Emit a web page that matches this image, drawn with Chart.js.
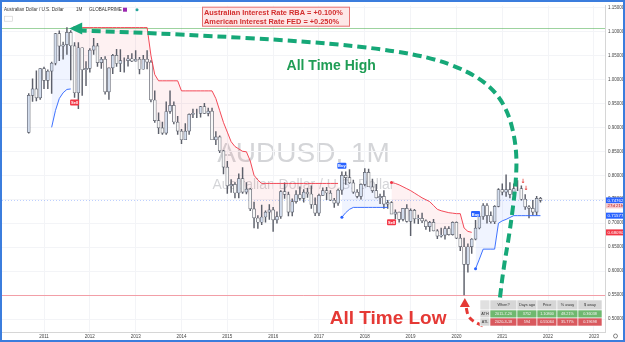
<!DOCTYPE html>
<html>
<head>
<meta charset="utf-8">
<script src="https://cdn.jsdelivr.net/npm/chart.js@4/dist/chart.umd.min.js"></script>
<style>
  html, body { margin: 0; padding: 0; background: #fff; }
  #wrap { position: relative; width: 625px; height: 342px; }
</style>
</head>
<body>
<div id="wrap"><canvas id="myChart" width="625" height="342"></canvas></div>
<script>
// AUDUSD monthly candles, Sep 2010 .. Nov 2021 (index 0 = Sep 2010)
var candleOpen = [
  0.8895, 0.9667, 0.9800, 0.9615,
  1.0224, 0.9980, 1.0170, 1.0336, 1.0955, 1.0692, 1.0722, 1.0980, 1.0700, 0.9720, 1.0660, 1.0200,
  1.0230, 1.0610, 1.0700, 1.0350, 1.0420, 0.9740, 1.0240, 1.0500, 1.0330, 1.0390, 1.0390, 1.0430,
  1.0380, 1.0420, 1.0210, 1.0420, 1.0360, 0.9570, 0.9140, 0.8990, 0.8880, 0.9330, 0.9460, 0.9110,
  0.8920, 0.8740, 0.8920, 0.9270, 0.9290, 0.9290, 0.9430, 0.9290, 0.9340, 0.8740, 0.8800, 0.8510,
  0.8170, 0.7780, 0.7810, 0.7630, 0.7930, 0.7650, 0.7710, 0.7300, 0.7110, 0.7020, 0.7130, 0.7230,
  0.7280, 0.7070, 0.7140, 0.7660, 0.7600, 0.7230, 0.7450, 0.7600, 0.7520, 0.7650, 0.7610, 0.7390,
  0.7210, 0.7580, 0.7680, 0.7630, 0.7480, 0.7420, 0.7690, 0.8000, 0.7950, 0.7840, 0.7650, 0.7560,
  0.7810, 0.8060, 0.7760, 0.7680, 0.7530, 0.7560, 0.7400, 0.7430, 0.7190, 0.7230, 0.7080, 0.7310,
  0.7040, 0.7270, 0.7090, 0.7100, 0.7050, 0.6930, 0.7020, 0.6840, 0.6730, 0.6750, 0.6890, 0.6760,
  0.7020, 0.6690, 0.6510, 0.6140, 0.6510, 0.6670, 0.6900, 0.7140, 0.7370, 0.7160, 0.7030, 0.7350,
  0.7700, 0.7650, 0.7700, 0.7600, 0.7720, 0.7720, 0.7500, 0.7340, 0.7310, 0.7230, 0.7520
];
var candleHigh = [
  0.9705, 1.0013, 1.0180, 1.0225,
  1.0255, 1.0200, 1.0360, 1.0960, 1.1012, 1.0780, 1.1080, 1.1015, 1.0765, 1.0765, 1.0660, 1.0370,
  1.0640, 1.0855, 1.0750, 1.0460, 1.0475, 1.0240, 1.0520, 1.0625, 1.0620, 1.0450, 1.0500, 1.0540,
  1.0600, 1.0460, 1.0500, 1.0600, 1.0390, 0.9760, 0.9300, 0.9110, 0.9530, 0.9760, 0.9530, 0.9230,
  0.8960, 0.9080, 0.9280, 0.9380, 0.9380, 0.9440, 0.9500, 0.9400, 0.9400, 0.8910, 0.8820, 0.8520,
  0.8290, 0.7910, 0.7850, 0.8030, 0.8160, 0.7850, 0.7730, 0.7440, 0.7160, 0.7380, 0.7260, 0.7390,
  0.7330, 0.7240, 0.7680, 0.7840, 0.7650, 0.7510, 0.7680, 0.7760, 0.7700, 0.7730, 0.7780, 0.7530,
  0.7610, 0.7740, 0.7750, 0.7680, 0.7520, 0.7710, 0.8070, 0.8070, 0.8120, 0.7900, 0.7700, 0.7820,
  0.8140, 0.8130, 0.7920, 0.7810, 0.7610, 0.7680, 0.7480, 0.7450, 0.7280, 0.7230, 0.7310, 0.7390,
  0.7300, 0.7290, 0.7170, 0.7210, 0.7070, 0.7040, 0.7080, 0.6870, 0.6900, 0.6930, 0.6930, 0.7030,
  0.7030, 0.6770, 0.6690, 0.6570, 0.6680, 0.7060, 0.7200, 0.7410, 0.7410, 0.7240, 0.7370, 0.7720,
  0.7820, 0.8010, 0.7850, 0.7820, 0.7890, 0.7780, 0.7600, 0.7370, 0.7480, 0.7560, 0.7540
];
var candleLow = [
  0.8880, 0.9540, 0.9550, 0.9580,
  0.9805, 0.9805, 0.9705, 1.0300, 1.0390, 1.0420, 1.0520, 0.9990, 0.9625, 0.9390, 0.9665, 0.9870,
  1.0150, 1.0520, 1.0270, 1.0230, 0.9690, 0.9580, 1.0120, 1.0270, 1.0160, 1.0150, 1.0275, 1.0370,
  1.0380, 1.0115, 1.0210, 1.0220, 0.9530, 0.9100, 0.8870, 0.8850, 0.8850, 0.9290, 0.9070, 0.8850,
  0.8660, 0.8740, 0.8850, 0.9200, 0.9200, 0.9210, 0.9290, 0.9240, 0.8740, 0.8640, 0.8470, 0.8030,
  0.7620, 0.7640, 0.7530, 0.7530, 0.7620, 0.7610, 0.7260, 0.6900, 0.6890, 0.6970, 0.7020, 0.7080,
  0.6830, 0.7000, 0.7100, 0.7520, 0.7150, 0.7150, 0.7420, 0.7480, 0.7440, 0.7540, 0.7310, 0.7160,
  0.7160, 0.7580, 0.7490, 0.7470, 0.7330, 0.7370, 0.7600, 0.7810, 0.7830, 0.7620, 0.7530, 0.7500,
  0.7780, 0.7760, 0.7640, 0.7530, 0.7410, 0.7310, 0.7310, 0.7200, 0.7090, 0.7020, 0.7050, 0.7020,
  0.6740, 0.7000, 0.6990, 0.7010, 0.6870, 0.6830, 0.6840, 0.6680, 0.6710, 0.6670, 0.6750, 0.6750,
  0.6680, 0.6430, 0.5506, 0.5980, 0.6370, 0.6650, 0.6880, 0.7080, 0.7000, 0.7000, 0.6990, 0.7340,
  0.7590, 0.7560, 0.7530, 0.7530, 0.7680, 0.7480, 0.7290, 0.7110, 0.7170, 0.7170, 0.7440
];
var candleClose = [
  0.9667, 0.9800, 0.9615, 1.0224,
  0.9980, 1.0170, 1.0336, 1.0955, 1.0692, 1.0722, 1.0980, 1.0700, 0.9720, 1.0660, 1.0200, 1.0230,
  1.0610, 1.0700, 1.0350, 1.0420, 0.9740, 1.0240, 1.0500, 1.0330, 1.0390, 1.0390, 1.0430, 1.0380,
  1.0420, 1.0210, 1.0420, 1.0360, 0.9570, 0.9140, 0.8990, 0.8880, 0.9330, 0.9460, 0.9110, 0.8920,
  0.8740, 0.8920, 0.9270, 0.9290, 0.9290, 0.9430, 0.9290, 0.9340, 0.8740, 0.8800, 0.8510, 0.8170,
  0.7780, 0.7810, 0.7630, 0.7930, 0.7650, 0.7710, 0.7300, 0.7110, 0.7020, 0.7130, 0.7230, 0.7280,
  0.7070, 0.7140, 0.7660, 0.7600, 0.7230, 0.7450, 0.7600, 0.7520, 0.7650, 0.7610, 0.7390, 0.7210,
  0.7580, 0.7680, 0.7630, 0.7480, 0.7420, 0.7690, 0.8000, 0.7950, 0.7840, 0.7650, 0.7560, 0.7810,
  0.8060, 0.7760, 0.7680, 0.7530, 0.7560, 0.7400, 0.7430, 0.7190, 0.7230, 0.7080, 0.7310, 0.7040,
  0.7270, 0.7090, 0.7100, 0.7050, 0.6930, 0.7020, 0.6840, 0.6730, 0.6750, 0.6890, 0.6760, 0.7020,
  0.6690, 0.6510, 0.6140, 0.6510, 0.6670, 0.6900, 0.7140, 0.7370, 0.7160, 0.7030, 0.7350, 0.7700,
  0.7650, 0.7700, 0.7600, 0.7720, 0.7720, 0.7500, 0.7340, 0.7310, 0.7230, 0.7520, 0.7476
];

// trailing stop lines (supertrend style), start index + values
var supportStart1 = 6;
var support1 = [0.900, 0.935, 0.960, 0.972, 0.979, 0.980];
var supportStart2 = 82;
var support2 = [0.7124, 0.722, 0.729, 0.733, 0.733, 0.733, 0.733, 0.733, 0.733, 0.733, 0.733, 0.733, 0.733];
var supportStart3 = 117;
var support3 = [0.605, 0.625, 0.646, 0.646, 0.646, 0.646, 0.700, 0.705, 0.708, 0.712,
  0.7158, 0.7158, 0.7158, 0.7158, 0.7158, 0.7158, 0.7158, 0.7158];
var resistStart1 = 12;
var resist1 = [1.108, 1.108, 1.108, 1.108, 1.108, 1.108, 1.108, 1.108, 1.108, 1.108,
  1.108, 1.108, 1.108, 1.108, 1.108, 1.108, 1.108, 1.108, 1.108, 1.108,
  1.050, 1.010, 0.997, 0.997, 0.997, 0.997, 0.997, 0.997,
  0.976, 0.976, 0.976, 0.976, 0.976, 0.976, 0.976, 0.976, 0.976,
  0.960, 0.935, 0.910, 0.890, 0.870, 0.860, 0.855, 0.850, 0.849, 0.830, 0.800, 0.790,
  0.783, 0.783, 0.783, 0.783, 0.783, 0.783, 0.783, 0.783, 0.783, 0.783, 0.783,
  0.783, 0.783, 0.783, 0.783, 0.783, 0.783, 0.783, 0.783, 0.783, 0.783];
var resistStart2 = 95;
var resist2 = [0.785, 0.783, 0.780, 0.776, 0.772, 0.768, 0.763, 0.758, 0.753, 0.749, 0.745,
  0.737, 0.729, 0.726, 0.724, 0.722, 0.721, 0.720, 0.720, 0.690, 0.683, 0.681];

var buySignals = [[82, 0.820], [117, 0.719]];
var sellSignals = [[12, 0.952], [95, 0.702]];
var downArrows = [[129.4, 0.787], [130.2, 0.772]];

var yearLabels = ['2011', '2012', '2013', '2014', '2015', '2016', '2017', '2018', '2019', '2020', '2021', '2022', '2023'];
var yearIndex = [4, 16, 28, 40, 52, 64, 76, 88, 100, 112, 124, 136, 148];
var priceTicks = [0.50, 0.55, 0.60, 0.65, 0.70, 0.75, 0.80, 0.85, 0.90, 0.95, 1.00, 1.05, 1.10, 1.15];

var athPrice = 1.108;
var atlPrice = 0.5506;
var lastPrice = 0.74762;

var tableHead = ['', 'When?', 'Days ago', 'Price', '% away', '$ away'];
var tableAth = ['ATH', '2011-7-26', '3752', '1.10800', '48.21%', '0.36038'];
var tableAtl = ['ATL', '2020-3-18', '594', '0.55064', '35.77%', '0.19698'];

// annotation paths in (month index, price)
var greenArrow = [[123.4, 0.545], [124.2, 0.601], [126.0, 0.683], [127.8, 0.797], [127.6, 0.869],
  [125.2, 0.941], [120.0, 0.994], [110.3, 1.034], [97.2, 1.059], [73.7, 1.079], [39.6, 1.094], [13.4, 1.102]];
var greenTip = [10.6, 1.106];
var redArrow = [[118.9, 0.486], [116.6, 0.494], [115.0, 0.506], [114.5, 0.527]];
var redTip = [114.2, 0.544];

// ------------------------------------------------------------
var n = candleOpen.length;

function placeSeg(start, vals) {
  var arr = [];
  for (var i = 0; i < n; i++) arr.push(null);
  vals.forEach(function (v, k) { arr[start + k] = v; });
  return arr;
}
function merge(a, b) { return a.map(function (v, i) { return v !== null ? v : b[i]; }); }

var supportLine = merge(merge(placeSeg(supportStart1, support1), placeSeg(supportStart2, support2)), placeSeg(supportStart3, support3));
var resistLine = merge(placeSeg(resistStart1, resist1), placeSeg(resistStart2, resist2));

var ohlc4 = candleOpen.map(function (o, i) { return (o + candleHigh[i] + candleLow[i] + candleClose[i]) / 4; });
var supportMid = supportLine.map(function (v, i) { return v === null ? null : ohlc4[i]; });
var resistMid = resistLine.map(function (v, i) { return v === null ? null : ohlc4[i]; });

function xy(arr) { return arr.map(function (v, i) { return {x: i, y: v}; }); }

var wickData = candleOpen.map(function (o, i) { return {x: i, y: [candleLow[i], candleHigh[i]]}; });
var bodyData = candleOpen.map(function (o, i) {
  var c = candleClose[i];
  return {x: i, y: [Math.min(o, c), Math.max(o, c)]};
});

function startRadius(arr) {
  return function (ctx) {
    var i = ctx.dataIndex;
    return (arr[i] !== null && (i === 0 || arr[i - 1] === null) && i > 10) ? 1.5 : 0;
  };
}

function roundRect(ctx, x, y, w, h, r) {
  ctx.beginPath();
  ctx.moveTo(x + r, y);
  ctx.arcTo(x + w, y, x + w, y + h, r);
  ctx.arcTo(x + w, y + h, x, y + h, r);
  ctx.arcTo(x, y + h, x, y, r);
  ctx.arcTo(x, y, x + w, y, r);
  ctx.closePath();
}

function smoothPath(ctx, pts) {
  ctx.beginPath();
  ctx.moveTo(pts[0][0], pts[0][1]);
  for (var k = 1; k < pts.length - 1; k++) {
    var mx = (pts[k][0] + pts[k + 1][0]) / 2, my = (pts[k][1] + pts[k + 1][1]) / 2;
    ctx.quadraticCurveTo(pts[k][0], pts[k][1], mx, my);
  }
  ctx.lineTo(pts[pts.length - 1][0], pts[pts.length - 1][1]);
  ctx.stroke();
}

var overlay = {
  id: 'overlay',
  beforeDraw: function (chart) {
    var ctx = chart.ctx, a = chart.chartArea;
    ctx.save();
    ctx.fillStyle = '#ffffff';
    ctx.fillRect(0, 0, chart.width, chart.height);
    // watermark
    var cx = (a.left + a.right) / 2, cy = (a.top + a.bottom) / 2;
    ctx.fillStyle = 'rgba(120,123,134,0.32)';
    ctx.textAlign = 'center';
    ctx.textBaseline = 'alphabetic';
    ctx.font = '28px "Liberation Sans", Arial, sans-serif';
    ctx.fillText('AUDUSD, 1M', cx, cy - 7);
    ctx.font = '14px "Liberation Sans", Arial, sans-serif';
    ctx.fillText('Australian Dollar / U.S. Dollar', cx, cy + 20);
    ctx.restore();
  },
  beforeDatasetsDraw: function (chart) {
    var ctx = chart.ctx, a = chart.chartArea, ys = chart.scales.y;
    ctx.save();
    ctx.lineWidth = 1;
    ctx.strokeStyle = 'rgba(76,175,80,0.55)';
    var yh = Math.round(ys.getPixelForValue(athPrice)) + 0.5;
    ctx.beginPath(); ctx.moveTo(a.left, yh); ctx.lineTo(a.right, yh); ctx.stroke();
    ctx.strokeStyle = 'rgba(242,54,69,0.45)';
    var yl = Math.round(ys.getPixelForValue(atlPrice)) + 0.5;
    ctx.beginPath(); ctx.moveTo(a.left, yl); ctx.lineTo(a.right, yl); ctx.stroke();
    // last price dotted line
    ctx.strokeStyle = 'rgba(41,98,255,0.3)';
    ctx.setLineDash([1, 2]);
    var yp = Math.round(ys.getPixelForValue(lastPrice)) + 0.5;
    ctx.beginPath(); ctx.moveTo(a.left, yp); ctx.lineTo(a.right, yp); ctx.stroke();
    ctx.restore();
  },
  afterDraw: function (chart) {
    var ctx = chart.ctx, a = chart.chartArea, xs = chart.scales.x, ys = chart.scales.y;
    function px(p) { return [xs.getPixelForValue(p[0]), ys.getPixelForValue(p[1])]; }
    ctx.save();

    // buy / sell labels
    ctx.font = 'bold 4px "Liberation Sans", Arial, sans-serif';
    ctx.textAlign = 'center';
    ctx.textBaseline = 'middle';
    buySignals.forEach(function (s) {
      var p = px(s);
      ctx.fillStyle = '#2962ff';
      roundRect(ctx, p[0] - 4.5, p[1] - 3, 9, 6, 1); ctx.fill();
      ctx.fillStyle = '#fff';
      ctx.fillText('Buy', p[0], p[1] + 0.3);
    });
    sellSignals.forEach(function (s) {
      var p = px(s);
      ctx.fillStyle = '#f23645';
      roundRect(ctx, p[0] - 4.5, p[1] - 3, 9, 6, 1); ctx.fill();
      ctx.fillStyle = '#fff';
      ctx.fillText('Sell', p[0], p[1] + 0.3);
    });

    // small red down arrows
    ctx.fillStyle = '#e53935';
    ctx.font = 'bold 6px "DejaVu Sans", sans-serif';
    downArrows.forEach(function (s) {
      var p = px(s);
      ctx.fillText('\u2193', p[0], p[1]);
    });

    // green dashed arrow to all time high
    ctx.strokeStyle = '#16a878';
    ctx.fillStyle = '#16a878';
    ctx.lineWidth = 4;
    ctx.setLineDash([9, 5]);
    smoothPath(ctx, greenArrow.map(px));
    ctx.setLineDash([]);
    var gt = px(greenTip);
    ctx.beginPath();
    ctx.moveTo(gt[0], gt[1]);
    ctx.lineTo(gt[0] + 13, gt[1] - 6);
    ctx.lineTo(gt[0] + 13, gt[1] + 6);
    ctx.closePath(); ctx.fill();

    // red dashed arrow to all time low
    ctx.strokeStyle = '#e53935';
    ctx.fillStyle = '#e53935';
    ctx.lineWidth = 3;
    ctx.setLineDash([6, 4]);
    smoothPath(ctx, redArrow.map(px));
    ctx.setLineDash([]);
    var rt = px(redTip);
    ctx.beginPath();
    ctx.moveTo(rt[0], rt[1]);
    ctx.lineTo(rt[0] - 5, rt[1] + 9);
    ctx.lineTo(rt[0] + 5, rt[1] + 9);
    ctx.closePath(); ctx.fill();

    // annotation texts
    ctx.textBaseline = 'alphabetic';
    ctx.fillStyle = '#1f9d55';
    ctx.font = 'bold 14px "Liberation Sans", Arial, sans-serif';
    var th = px([79.2, 1.020]);
    ctx.fillText('All Time High', th[0], th[1]);
    ctx.fillStyle = '#e53935';
    ctx.font = 'bold 19px "Liberation Sans", Arial, sans-serif';
    var tl = px([94.1, 0.490]);
    ctx.fillText('All Time Low', tl[0], tl[1]);

    // interest rate box
    var bx = a.left + 200, by = a.top + 1;
    ctx.fillStyle = '#fde7e7';
    ctx.fillRect(bx, by, 148, 20);
    ctx.strokeStyle = '#e57373';
    ctx.lineWidth = 1;
    ctx.strokeRect(bx + 0.5, by + 0.5, 147, 19);
    ctx.fillStyle = '#d32f2f';
    ctx.textAlign = 'left';
    ctx.font = 'bold 7.4px "Liberation Sans", Arial, sans-serif';
    ctx.fillText('Australian Interest Rate RBA = +0.100%', bx + 2, by + 8.5);
    ctx.fillText('American Interest Rate FED = +0.250%', bx + 2, by + 17);

    // header legend
    ctx.fillStyle = '#333';
    ctx.font = '4.6px "Liberation Sans", Arial, sans-serif';
    ctx.fillText('Australian Dollar / U.S. Dollar', a.left + 2, a.top + 5);
    ctx.fillText('1M', a.left + 74, a.top + 5);
    ctx.fillText('GLOBALPRIME', a.left + 87, a.top + 5);
    ctx.fillStyle = '#9c27b0';
    ctx.fillRect(a.left + 121, a.top + 2, 4, 4);
    ctx.fillStyle = '#26a69a';
    ctx.beginPath(); ctx.arc(a.left + 135, a.top + 4, 1.5, 0, Math.PI * 2); ctx.fill();
    ctx.strokeStyle = '#ccc';
    ctx.lineWidth = 0.6;
    ctx.strokeRect(a.left + 2.5, a.top + 10.5, 8, 5);

    // ATH / ATL table
    var colX = [480, 490, 517, 537, 557, 578, 602];
    var rowY = [300, 310, 318, 326];
    var rows = [tableHead, tableAth, tableAtl];
    var bgs = [['#e0e0e0', '#d6d6d6'], ['#d6d6d6', '#6fb86f'], ['#d6d6d6', '#d9595e']];
    ctx.font = '3.8px "Liberation Sans", Arial, sans-serif';
    ctx.textAlign = 'center';
    ctx.textBaseline = 'middle';
    rows.forEach(function (row, r) {
      row.forEach(function (txt, c) {
        var x0 = colX[c], x1 = colX[c + 1], y0 = rowY[r], y1 = rowY[r + 1];
        ctx.fillStyle = c === 0 ? bgs[r][0] : bgs[r][1];
        ctx.fillRect(x0, y0, x1 - x0, y1 - y0);
        ctx.strokeStyle = '#ffffff';
        ctx.lineWidth = 0.6;
        ctx.strokeRect(x0, y0, x1 - x0, y1 - y0);
        ctx.fillStyle = (r > 0 && c > 0) ? '#f4f4f4' : '#333';
        ctx.fillText(txt, (x0 + x1) / 2, (y0 + y1) / 2 + 0.3);
      });
    });

    // price axis tags
    var tags = [
      [0.74762, '#2962ff', '0.74762', '#fff'],
      [0.71577, '#2962ff', '0.71577', '#fff'],
      [0.68090, '#f23645', '0.68090', '#fff']
    ];
    ctx.font = '4.4px "Liberation Sans", Arial, sans-serif';
    tags.forEach(function (t) {
      var yv = ys.getPixelForValue(t[0]);
      ctx.fillStyle = t[1];
      ctx.fillRect(a.right + 1, yv - 3, 19, 6);
      ctx.fillStyle = t[3];
      ctx.fillText(t[2], a.right + 10.5, yv + 0.3);
    });
    var yc = ys.getPixelForValue(lastPrice) + 3;
    ctx.fillStyle = '#f7c9cd';
    ctx.fillRect(a.right + 1, yc, 19, 5);
    ctx.fillStyle = '#b71c1c';
    ctx.fillText('27d 21h', a.right + 10.5, yc + 2.7);

    // gear icon
    ctx.strokeStyle = '#555';
    ctx.lineWidth = 0.7;
    ctx.beginPath(); ctx.arc(a.right + 10.5, a.bottom + 4, 2, 0, Math.PI * 2); ctx.stroke();

    // blue frame
    ctx.strokeStyle = '#3b7ddd';
    ctx.lineWidth = 2;
    ctx.strokeRect(1, 1, chart.width - 2, chart.height - 2);
    ctx.restore();
  }
};

var ctx = document.getElementById('myChart').getContext('2d');
this.chart = new Chart(ctx, {
  type: 'bar',
  data: {
    datasets: [
      {
        type: 'line', label: 'support', data: xy(supportLine),
        borderColor: '#2962ff', borderWidth: 0.9, pointRadius: startRadius(supportLine),
        pointBackgroundColor: '#2962ff', pointBorderWidth: 0,
        fill: {target: 2, above: 'rgba(41,98,255,0.07)', below: 'rgba(41,98,255,0.07)'},
        spanGaps: false, order: 0
      },
      {
        type: 'line', label: 'resist', data: xy(resistLine),
        borderColor: '#f23645', borderWidth: 0.9, pointRadius: startRadius(resistLine),
        pointBackgroundColor: '#f23645', pointBorderWidth: 0,
        fill: {target: 3, above: 'rgba(242,54,69,0.07)', below: 'rgba(242,54,69,0.07)'},
        spanGaps: false, order: 0
      },
      {
        type: 'line', label: 'supportMid', data: xy(supportMid),
        borderWidth: 0, borderColor: 'rgba(0,0,0,0)', pointRadius: 0, spanGaps: false, order: 5
      },
      {
        type: 'line', label: 'resistMid', data: xy(resistMid),
        borderWidth: 0, borderColor: 'rgba(0,0,0,0)', pointRadius: 0, spanGaps: false, order: 5
      },
      {
        label: 'wick', data: wickData, backgroundColor: '#5d606b',
        barThickness: 0.8, grouped: false, order: 2
      },
      {
        label: 'body', data: bodyData,
        backgroundColor: function (c) {
          var i = c.dataIndex;
          return candleClose[i] >= candleOpen[i] ? '#d3dded' : '#f7f7f7';
        },
        borderColor: '#5d606b', borderWidth: 0.7, borderSkipped: false,
        barThickness: 3, grouped: false, order: 1
      }
    ]
  },
  options: {
    responsive: false,
    animation: false,
    devicePixelRatio: 1,
    layout: {padding: {left: 2, top: 2, right: 1, bottom: 2}},
    plugins: {
      legend: {display: false},
      tooltip: {enabled: false},
      filler: {drawTime: 'beforeDatasetsDraw'}
    },
    scales: {
      x: {
        type: 'linear', min: -7.0, max: 150.9, offset: false,
        grid: {color: '#f3f4f7', drawTicks: false, offset: false},
        border: {display: true, color: '#d6d6d6'},
        afterBuildTicks: function (s) { s.ticks = yearIndex.map(function (v) { return {value: v}; }); },
        ticks: {
          autoSkip: false, maxRotation: 0, padding: 2, color: '#444',
          font: {size: 4.5, family: '"Liberation Sans", Arial, sans-serif'},
          callback: function (v) { return yearLabels[yearIndex.indexOf(v)]; }
        },
        afterFit: function (s) { s.height = 8; }
      },
      y: {
        position: 'right', min: 0.4732, max: 1.1536,
        grid: {color: '#f3f4f7', drawTicks: false},
        border: {display: true, color: '#d6d6d6'},
        afterBuildTicks: function (s) { s.ticks = priceTicks.map(function (v) { return {value: v}; }); },
        ticks: {
          padding: 3, color: '#444',
          font: {size: 4.5, family: '"Liberation Sans", Arial, sans-serif'},
          callback: function (v) { return v.toFixed(5); }
        },
        afterFit: function (s) { s.width = 19; }
      }
    }
  },
  plugins: [overlay]
});
</script>
</body>
</html>
